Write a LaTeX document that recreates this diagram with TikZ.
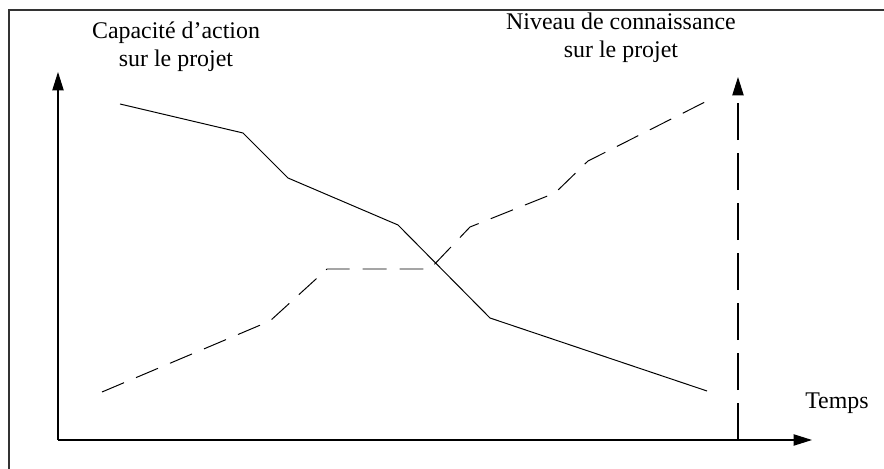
\documentclass[tikz,border=0pt]{standalone}
\usepackage{fontspec}
\setmainfont{Liberation Serif}
\usetikzlibrary{arrows.meta}
\begin{document}
\begin{tikzpicture}[>={Triangle[length=13pt,width=8pt]},x=1cm,y=1cm,
	axe/.style={line width=0.8pt},
	courbe/.style={line width=0.7pt},
	tirets/.style={courbe,dash pattern=on 17pt off 9.25pt},
	etiquette/.style={font=\fontsize{17}{20}\selectfont,inner sep=0pt,align=center}]
	\useasboundingbox (0,0) rectangle (22.1,11.725);
	\draw[line width=1.1pt,black!80] (0.225,-0.5) |- (22.6,11.475); % cadre
	\coordinate (O) at (1.45,0.725);
	\coordinate (Y) at (1.45,9.925);
	\coordinate (X) at (20.3,0.725);
	\coordinate (T0) at (18.45,0.725);
	\coordinate (T1) at (18.45,9.8);
	\draw[axe,->] (O) -- (Y);
	\draw[axe,->] (O) -- (X);
	\draw[axe,->,dash pattern=on 26.3pt off 9.25pt] (T0) -- (T1);
	% capacite d'action
	\draw[courbe] (3.0,9.125) -- (6.075,8.4) -- (7.2,7.275) -- (9.95,6.1) -- (12.25,3.775) -- (17.675,1.95);
	% niveau de connaissance
	\draw[tirets] (2.55,1.925) -- (6.75,3.7) -- (8.175,5.0) -- (10.75,5.0) -- (11.75,6.05) -- (13.875,6.9) -- (14.7,7.7) -- (17.675,9.2);
	\node[etiquette,anchor=base] (capacite) at (4.4,10.05) {Capacité d’action\\sur le projet};
	\node[etiquette,anchor=base] (niveau) at (15.525,10.275) {Niveau de connaissance\\sur le projet};
	\node[etiquette,anchor=base west] (temps) at (20.125,1.5) {Temps};
\end{tikzpicture}
\end{document}
